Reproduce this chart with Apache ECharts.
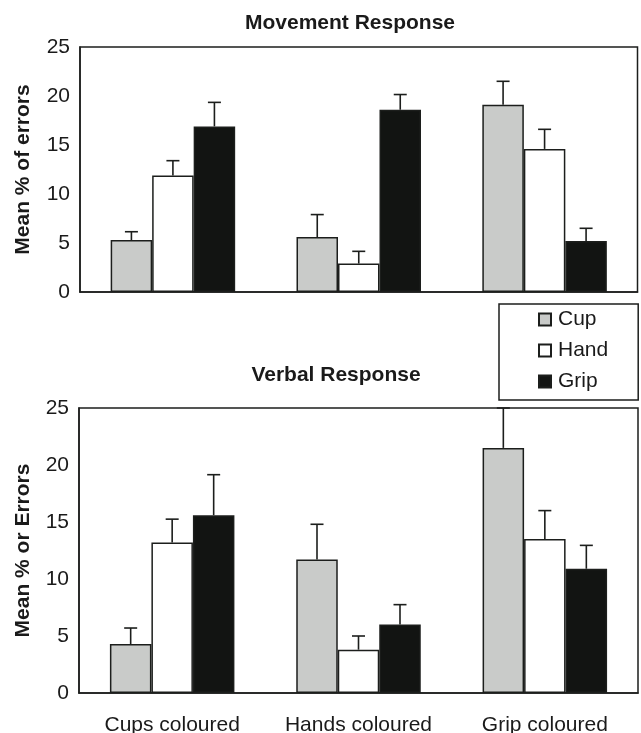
<!DOCTYPE html>
<html>
<head>
<meta charset="utf-8">
<script src="https://cdn.jsdelivr.net/npm/echarts@6/dist/echarts.min.js"></script>
<style>
html,body{margin:0;padding:0;background:#fff;}
#chart{width:641px;height:733px;}
</style>
</head>
<body>
<div id="chart"></div>
<script>
const categories = ['Cups coloured', 'Hands coloured', 'Grip coloured'];
const seriesNames = ['Cup', 'Hand', 'Grip'];
const yTicks = [0, 5, 10, 15, 20, 25];

// Movement Response: means and error (SE) amounts
const movementCup = [5.3, 5.6, 19.1];
const movementHand = [11.9, 2.9, 14.6];
const movementGrip = [16.9, 18.6, 5.2];
const movementCupErr = [0.85, 2.3, 2.4];
const movementHandErr = [1.5, 1.25, 2.0];
const movementGripErr = [2.45, 1.55, 1.3];

// Verbal Response: means and error amounts
const verbalCup = [4.3, 11.7, 21.5];
const verbalHand = [13.2, 3.8, 13.5];
const verbalGrip = [15.6, 6.0, 10.9];
const verbalCupErr = [1.4, 3.1, 3.5];
const verbalHandErr = [2.05, 1.2, 2.5];
const verbalGripErr = [3.55, 1.75, 2.05];

const FONT = "'Liberation Sans', Arial, sans-serif";
const DARK = '#1c1e1c';
const COLORS = ['#c9cbc9', '#ffffff', '#121412'];
const BAR_W = 41.5;

const chart = echarts.init(document.getElementById('chart'), null, {renderer: 'canvas'});

function barSeries(name, data, idx) {
  return {
    name: name, type: 'bar', xAxisIndex: idx, yAxisIndex: idx,
    data: data, barWidth: BAR_W, barGap: '0%',
    itemStyle: {color: COLORS[seriesNames.indexOf(name)], borderColor: DARK, borderWidth: 1.5},
    emphasis: {disabled: true}, z: 2
  };
}

function errSeries(means, errs, pos, idx) {
  const data = means.map((m, i) => [i, m, m + errs[i], pos]);
  return {
    type: 'custom', xAxisIndex: idx, yAxisIndex: idx, z: 3,
    data: data, silent: true,
    renderItem: function (params, api) {
      const c = api.value(0);
      const base = api.coord([c, api.value(1)]);
      const top = api.coord([c, api.value(2)]);
      const x = base[0] + (api.value(3) - 1) * BAR_W;
      const st = {stroke: DARK, lineWidth: 1.6};
      return {
        type: 'group', children: [
          {type: 'line', shape: {x1: x, y1: base[1], x2: x, y2: top[1]}, style: st},
          {type: 'line', shape: {x1: x - 6.5, y1: top[1], x2: x + 6.5, y2: top[1]}, style: st}
        ]
      };
    }
  };
}

function yAxis(idx, name, gap) {
  return {
    type: 'value', gridIndex: idx, min: yTicks[0], max: yTicks[yTicks.length - 1], interval: 5,
    splitLine: {show: false}, axisTick: {show: false},
    axisLine: {show: true, lineStyle: {color: DARK, width: 1.5}},
    axisLabel: {color: '#1a1a1a', fontSize: 21, fontFamily: FONT, margin: 10},
    name: name, nameLocation: 'middle', nameGap: gap,
    nameTextStyle: {color: '#1a1a1a', fontSize: 21, fontWeight: 'bold', fontFamily: FONT}
  };
}

function xAxis(idx, showLabels) {
  return {
    type: 'category', gridIndex: idx, data: categories,
    axisTick: {show: false},
    axisLine: {show: true, lineStyle: {color: DARK, width: 1.5}},
    axisLabel: {show: showLabels, color: '#1a1a1a', fontSize: 21, fontFamily: FONT, margin: 22, interval: 0}
  };
}

const option = {
  backgroundColor: '#ffffff',
  animation: false,
  textStyle: {fontFamily: FONT},
  grid: [
    {left: 80, top: 47, width: 557.5, height: 245, outerBoundsMode: 'none', containLabel: false, show: true, borderColor: DARK, borderWidth: 1.5, backgroundColor: 'transparent'},
    {left: 79, top: 408, width: 559, height: 285, outerBoundsMode: 'none', containLabel: false, show: true, borderColor: DARK, borderWidth: 1.5, backgroundColor: 'transparent'}
  ],
  xAxis: [xAxis(0, false), xAxis(1, true)],
  yAxis: [yAxis(0, 'Mean % of errors', 46), yAxis(1, 'Mean % or Errors', 45)],
  legend: {
    orient: 'vertical', left: 499, top: 304,
    data: seriesNames,
    icon: 'rect', itemWidth: 12, itemHeight: 12, itemGap: 10,
    padding: [5, 30, 8, 39],
    borderColor: DARK, borderWidth: 1.5, backgroundColor: '#fff',
    textStyle: {color: '#1a1a1a', fontSize: 21, fontFamily: FONT, padding: [0, 0, 0, 2]},
    selectedMode: false
  },
  graphic: [
    {type: 'text', x: 350, y: 23, style: {text: 'Movement Response', fill: '#1a1a1a', font: 'bold 21px ' + FONT, textAlign: 'center', textVerticalAlign: 'middle'}},
    {type: 'text', x: 336, y: 375, style: {text: 'Verbal Response', fill: '#1a1a1a', font: 'bold 21px ' + FONT, textAlign: 'center', textVerticalAlign: 'middle'}}
  ],
  series: [
    barSeries('Cup', movementCup, 0),
    barSeries('Hand', movementHand, 0),
    barSeries('Grip', movementGrip, 0),
    errSeries(movementCup, movementCupErr, 0, 0),
    errSeries(movementHand, movementHandErr, 1, 0),
    errSeries(movementGrip, movementGripErr, 2, 0),
    barSeries('Cup', verbalCup, 1),
    barSeries('Hand', verbalHand, 1),
    barSeries('Grip', verbalGrip, 1),
    errSeries(verbalCup, verbalCupErr, 0, 1),
    errSeries(verbalHand, verbalHandErr, 1, 1),
    errSeries(verbalGrip, verbalGripErr, 2, 1)
  ]
};
chart.setOption(option);
</script>
</body>
</html>
